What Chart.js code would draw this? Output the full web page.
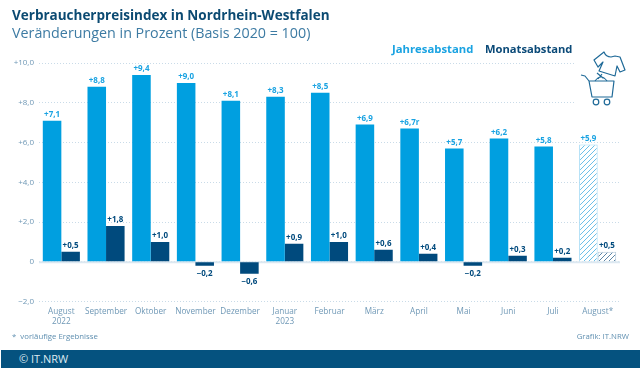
<!DOCTYPE html>
<html lang="de">
<head>
<meta charset="utf-8">
<title>Verbraucherpreisindex in Nordrhein-Westfalen</title>
<script src="https://cdn.jsdelivr.net/npm/chart.js@4"></script>
<style>
  html, body { margin: 0; padding: 0; background: #fff; }
  #wrap { position: relative; width: 640px; height: 368px; overflow: hidden; font-family: "Open Sans", sans-serif; }
  #wrap div { position: absolute; white-space: nowrap; }
  canvas { position: absolute; left: 0; top: 0; }
  #title { left: 12px; top: 6px; font-size: 13.5px; font-weight: 700; color: #0b4a72; }
  #subtitle { left: 12px; top: 23px; font-size: 14.3px; color: #3d7ba3; }
  #legendYear { left: 392px; top: 41px; font-size: 11.3px; font-weight: 700; color: #1aa3e2; }
  #legendMonth { left: 485px; top: 41px; font-size: 11.2px; font-weight: 700; color: #0b4a78; }
  #note { left: 12px; top: 331px; font-size: 7.8px; color: #5f8fb0; }
  #source { right: 11px; top: 331px; font-size: 7.8px; color: #5f8fb0; }
  #footer { left: 1px; right: 0; top: 350px; height: 18px; background: #05527f; color: #dfeaf2; font-size: 11px; line-height: 18px; padding-left: 18px; }
  #icon { left: 575px; top: 50px; width: 65px; height: 62px; background: #fff; }
</style>
</head>
<body>
<div id="wrap">
  <canvas id="chart" width="640" height="368"></canvas>
  <div id="title">Verbraucherpreisindex in Nordrhein-Westfalen</div>
  <div id="subtitle">Veränderungen in Prozent (Basis 2020 = 100)</div>
  <div id="legendYear">Jahresabstand</div>
  <div id="legendMonth">Monatsabstand</div>
  <div id="icon">
    <svg width="65" height="62" viewBox="0 0 65 62" fill="none" stroke="#1f6a98" stroke-width="1.2" stroke-linejoin="round">
      <path d="M19 10 L29 2 Q31 7 36 7 L40 6 L45 7 L50 20 L45 22 L42 16 L40 26 L24 21 L28 12 L23 17 Z"/>
      <path d="M6 25 L10 26 L14 31 L39 31 L37 47 L17 47 L14 31"/>
      <path d="M20 31 Q26 23 32 31 M22 23 L28 28 M27 24 L23 29"/>
      <circle cx="21" cy="52" r="2.8"/>
      <circle cx="32" cy="52" r="2.8"/>
    </svg>
  </div>
  <div id="note">*&nbsp; vorläufige Ergebnisse</div>
  <div id="source">Grafik: IT.NRW</div>
  <div id="footer">© IT.NRW</div>
</div>
<script>
// Data
const months = [["August", "2022"], "September", "Oktober", "November", "Dezember", ["Januar", "2023"],
  "Februar", "März", "April", "Mai", "Juni", "Juli", "August*"];
const yearly = [7.1, 8.8, 9.4, 9.0, 8.1, 8.3, 8.5, 6.9, 6.7, 5.7, 6.2, 5.8, 5.9];
const monthly = [0.5, 1.8, 1.0, -0.2, -0.6, 0.9, 1.0, 0.6, 0.4, -0.2, 0.3, 0.2, 0.5];
const yearlyNotes = ["", "", "", "", "", "", "", "", "r", "", "", "", ""];
const preliminaryIndex = 12;

const lightBlue = "#009fe0";
const darkBlue = "#004a7d";

// Hatch for the provisional August values
function hatch(color) {
  const c = document.createElement("canvas");
  c.width = 5;
  c.height = 5;
  const g = c.getContext("2d");
  g.fillStyle = "#fff";
  g.fillRect(0, 0, 5, 5);
  g.strokeStyle = color;
  g.lineWidth = 1;
  g.beginPath();
  g.moveTo(-1, 6);
  g.lineTo(6, -1);
  g.moveTo(-1, 1);
  g.lineTo(1, -1);
  g.moveTo(4, 6);
  g.lineTo(6, 4);
  g.stroke();
  return g.createPattern(c, "repeat");
}

function signed(v) {
  const s = Math.abs(v).toFixed(1).replace(".", ",");
  return (v < 0 ? "\u2212" : "+") + s;
}

// Pale zero line under the bars
const zeroLine = {
  id: "zeroLine",
  beforeDatasetsDraw(chart) {
    const { ctx, chartArea, scales } = chart;
    const y = scales.y.getPixelForValue(0);
    ctx.save();
    ctx.strokeStyle = "#dce8f1";
    ctx.lineWidth = 2;
    ctx.beginPath();
    ctx.moveTo(chartArea.left, y + 0.5);
    ctx.lineTo(chartArea.right, y + 0.5);
    ctx.stroke();
    ctx.restore();
  }
};

// Value labels over/under the bars
const valueLabels = {
  id: "valueLabels",
  afterDatasetsDraw(chart) {
    const { ctx } = chart;
    ctx.save();
    ctx.font = "700 8px 'Open Sans'";
    ctx.textAlign = "center";
    chart.data.datasets.forEach((ds, i) => {
      ctx.fillStyle = i === 0 ? "#1aa3e2" : darkBlue;
      chart.getDatasetMeta(i).data.forEach((bar, j) => {
        const v = ds.data[j];
        const text = signed(v) + (i === 0 ? yearlyNotes[j] : "");
        ctx.textBaseline = v < 0 ? "top" : "bottom";
        ctx.fillText(text, bar.x, v < 0 ? bar.y + 4 : bar.y - 2);
      });
    });
    ctx.restore();
  }
};

new Chart(document.getElementById("chart"), {
  type: "bar",
  data: {
    labels: months,
    datasets: [
      {
        label: "Jahresabstand",
        data: yearly,
        backgroundColor: yearly.map((v, i) => i === preliminaryIndex ? hatch("#6cbfe8") : lightBlue),
        borderColor: "#a5dbf6",
        borderWidth: yearly.map((v, i) => i === preliminaryIndex ? 1 : 0)
      },
      {
        label: "Monatsabstand",
        data: monthly,
        backgroundColor: monthly.map((v, i) => i === preliminaryIndex ? hatch("#5d86a6") : darkBlue),
        borderColor: "#b5c9d9",
        borderWidth: monthly.map((v, i) => i === preliminaryIndex ? 1 : 0)
      }
    ]
  },
  plugins: [zeroLine, valueLabels],
  options: {
    responsive: false,
    animation: false,
    layout: { padding: { top: 63, right: 20, bottom: 0, left: 0 } },
    plugins: {
      legend: { display: false },
      tooltip: { enabled: false }
    },
    datasets: {
      bar: { categoryPercentage: 0.83, barPercentage: 1 }
    },
    scales: {
      x: {
        afterFit(scale) { scale.height = 66.5; },
        grid: { display: false, drawTicks: false },
        border: { display: false },
        ticks: {
          color: "#6f98b6",
          font: { family: "Open Sans", size: 8.2, lineHeight: 1.2 },
          padding: 5,
          maxRotation: 0,
          autoSkip: false
        }
      },
      y: {
        min: -2,
        max: 10,
        afterFit(scale) { scale.width = 39; },
        grid: { color: "#c9dbe8", drawTicks: false },
        border: { display: false, dash: [1, 2] },
        ticks: {
          stepSize: 2,
          color: "#6f98b6",
          font: { family: "Open Sans", size: 8 },
          padding: 5,
          callback: v => v === 0 ? "0" : signed(v)
        }
      }
    }
  }
});
</script>
</body>
</html>
